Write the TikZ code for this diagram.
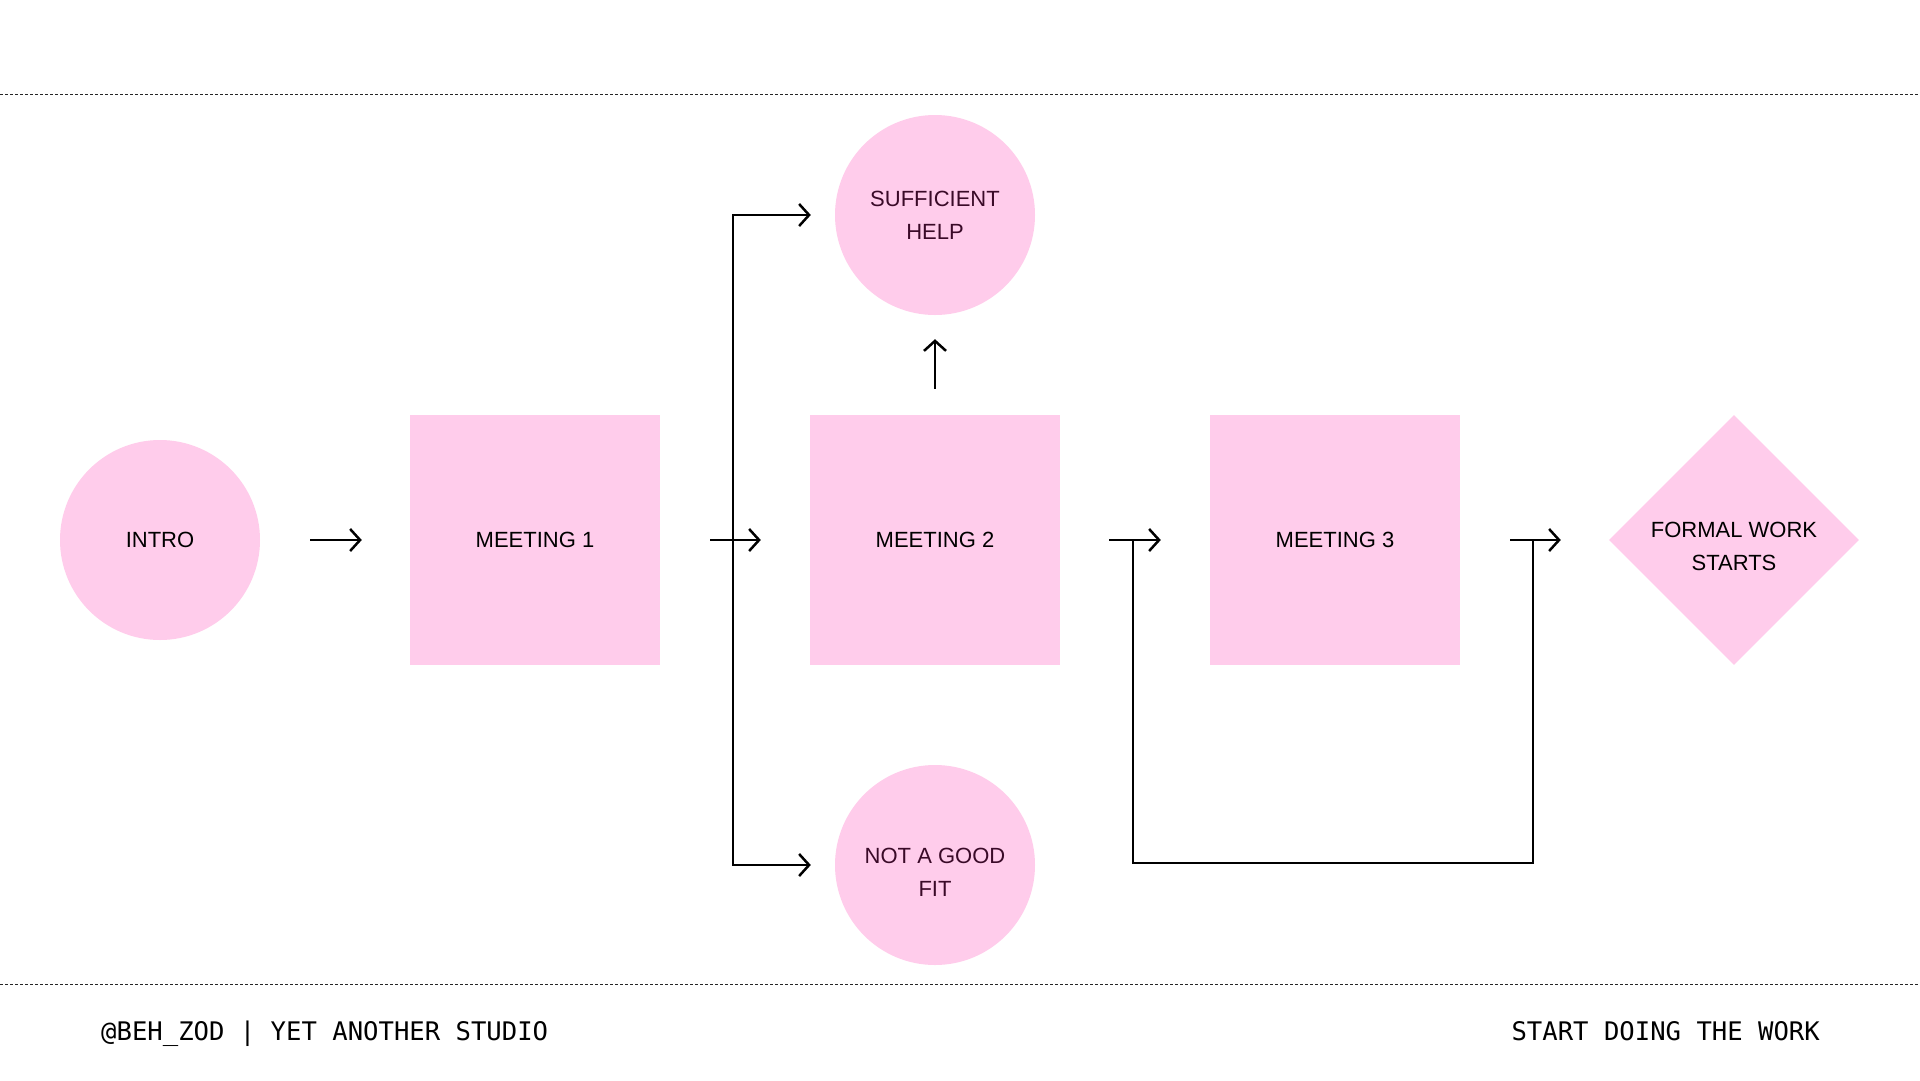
\documentclass[tikz,border=0pt]{standalone}
\usepackage{fontspec}
\setmainfont{Liberation Sans}
\newfontfamily\monofont{DejaVu Sans Mono}
\usetikzlibrary{arrows.meta,shapes.geometric}
\definecolor{pinkfill}{RGB}{255,204,235}
\definecolor{darkplum}{RGB}{58,10,40}
\begin{document}
\begin{tikzpicture}[x=1pt,y=-1pt,
  lbl/.style={font=\fontsize{22}{33}\selectfont, align=center, text=black},
  circ/.style={circle, fill=pinkfill, minimum size=200pt, inner sep=0pt, lbl},
  sq/.style={rectangle, fill=pinkfill, minimum size=250pt, inner sep=0pt, lbl},
  dia/.style={diamond, fill=pinkfill, minimum size=250pt, inner sep=0pt, lbl},
  conn/.style={line width=2.5pt, -{Straight Barb[length=10pt,width=22pt]}},
  wire/.style={line width=2.5pt},
  rulerline/.style={line width=1pt, dash pattern=on 3pt off 2pt, black!85},
  foot/.style={font=\monofont\fontsize{25.6}{30}\selectfont, inner sep=0pt}
]
\useasboundingbox (0,0) rectangle (1920,1080);
\fill[white] (0,0) rectangle (1920,1080);

% rules
\draw[rulerline] (0,94) -- (1920,94);
\draw[rulerline] (0,984) -- (1920,984);

% nodes
\node[circ] (intro) at (160,540) {INTRO};
\node[sq] (m1) at (535,540) {MEETING 1};
\node[sq] (m2) at (935,540) {MEETING 2};
\node[sq] (m3) at (1335,540) {MEETING 3};
\node[dia, label={[lbl, yshift=-6pt]center:{FORMAL WORK\\STARTS}}] (fw) at (1734,540) {};
\node[circ, text=darkplum] (suff) at (935,215) {SUFFICIENT\\HELP};
\node[circ, label={[lbl, text=darkplum, yshift=-7pt]center:{NOT A GOOD\\FIT}}] (ngf) at (935,865) {};

% branch points
\coordinate (br) at (733,540);
\coordinate (lp1) at (1133,540);
\coordinate (lp2) at (1533,540);

% connectors
\draw[conn, shorten <=50pt, shorten >=48pt] (intro) -- (m1);
\draw[conn, shorten <=50pt, shorten >=49pt] (m1) -- (m2);
\draw[conn, shorten <=49pt, shorten >=49pt] (m2) -- (m3);
\draw[conn, shorten <=50pt, shorten >=48pt] (m3) -- (fw);
\draw[conn, shorten >=24pt] (br) |- (suff.west);
\draw[conn, shorten >=24pt] (br) |- (ngf.west);
\draw[conn, shorten <=26pt, shorten >=24pt] (m2) -- (suff);
\draw[wire] (lp1) -- ++(0,323) -| (lp2);

% footer
\node[foot, anchor=base west] (credit) at (101,1040) {@BEH\_ZOD | YET ANOTHER STUDIO};
\node[foot, anchor=base east] (tag) at (1820,1040) {START DOING THE WORK};
\end{tikzpicture}
\end{document}
